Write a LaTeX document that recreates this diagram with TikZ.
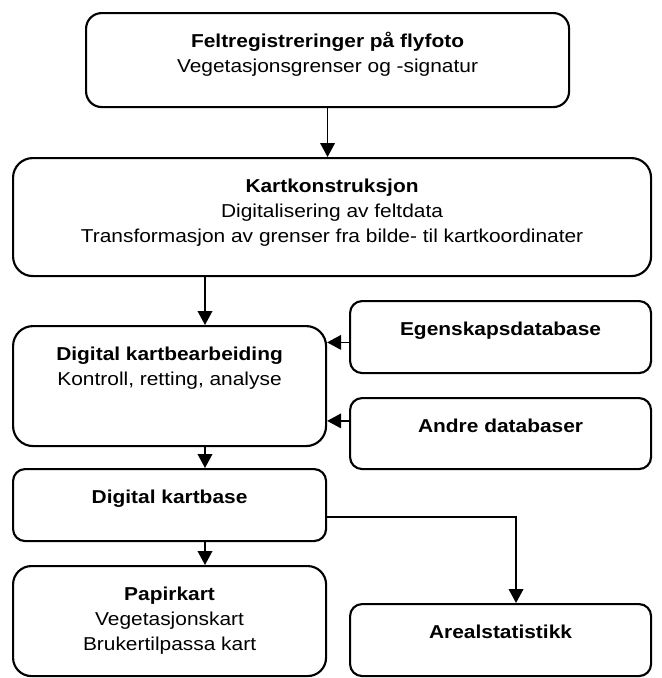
\documentclass[tikz,border=0pt]{standalone}
\usepackage{fontspec}
\setmainfont[FakeStretch=1.12]{Liberation Sans}
\usetikzlibrary{arrows.meta, positioning}
\tikzstyle{boks}=[draw,line width=1.6pt,inner sep=0pt,anchor=north west]
\tikzstyle{every node}=[font=\fontsize{14}{18.75}\selectfont]
\newcommand{\innhold}[3]{\parbox[t][#2][t]{#1}{\centering\vspace*{14pt}\rule{0pt}{12pt}#3\par}}

\begin{document}
\begin{tikzpicture}[x=0.75pt,y=-0.75pt,line width=1.2pt,>={Triangle[length=10.5pt,width=11pt]}]
    \useasboundingbox (0,0) rectangle (661,678);
    \node[boks, rounded corners=11.75pt] (felt) at (85,12) {\innhold{362.25pt}{70.5pt}{\textbf{Feltregistreringer på flyfoto}\\Vegetasjonsgrenser og -signatur}};
    \node[boks, rounded corners=14.75pt] (kart) at (12,157) {\innhold{478.5pt}{88.5pt}{\textbf{Kartkonstruksjon}\\Digitalisering av feltdata\\Transformasjon av grenser fra bilde- til kartkoordinater}};
    \node[boks, rounded corners=15pt] (bearb) at (12,325) {\innhold{234.75pt}{90pt}{\textbf{Digital kartbearbeiding}\\Kontroll, retting, analyse}};
    \node[boks, rounded corners=9pt] (egensk) at (349,300) {\innhold{225.75pt}{54pt}{\textbf{Egenskapsdatabase}}};
    \node[boks, rounded corners=9pt] (andre) at (349,397) {\innhold{225.75pt}{53.25pt}{\textbf{Andre databaser}}};
    \node[boks, rounded corners=9pt] (kbase) at (12,468) {\innhold{234.75pt}{54pt}{\textbf{Digital kartbase}}};
    \node[boks, rounded corners=13.75pt] (papir) at (12,565) {\innhold{234.75pt}{82.5pt}{\textbf{Papirkart}\\Vegetasjonskart\\Brukertilpassa kart}};
    \node[boks, rounded corners=9pt] (areal) at (349,603) {\innhold{225.75pt}{54pt}{\textbf{Arealstatistikk}}};
    \coordinate (midt) at (205,0);
    \draw[->] (felt.south) -- (felt.south |- kart.north);
    \draw[->] (midt |- kart.south) -- (midt |- bearb.north);
    \draw[->] ([yshift=-4pt]egensk.west) -- ([yshift=-4pt]egensk.west -| bearb.east);
    \draw[->] ([yshift=9.5pt]andre.west) -- ([yshift=9.5pt]andre.west -| bearb.east);
    \draw[->] (midt |- bearb.south) -- (midt |- kbase.north);
    \draw[->] (midt |- kbase.south) -- (midt |- papir.north);
    \draw[->] ([yshift=-9pt]kbase.east) -| ([xshift=11.6pt]areal.north);
\end{tikzpicture}
\end{document}
